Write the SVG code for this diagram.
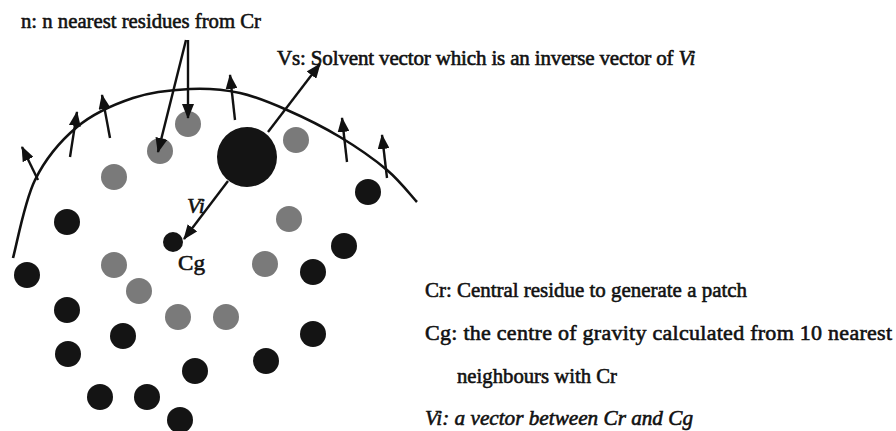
<svg xmlns="http://www.w3.org/2000/svg" width="896" height="431" viewBox="0 0 896 431">
<defs>
<marker id="ah" markerUnits="userSpaceOnUse" markerWidth="15" markerHeight="12" refX="14" refY="6" orient="auto">
<path d="M0,0 L15,6 L0,12 z" fill="#111"/>
</marker>
<style>
.blk{fill:#141414}
.gry{fill:#7a7a7a}
.ln{stroke:#111;stroke-width:2.6;fill:none}
.ar{stroke:#111;stroke-width:2.4;fill:none;marker-end:url(#ah)}
.t{font-family:"Liberation Serif","Times New Roman",serif;font-size:22px;fill:#111;stroke:#111;stroke-width:0.6}
.i{font-style:italic}
</style>
</defs>
<rect width="896" height="431" fill="#fff"/>
<g id="surface">
<path class="ln" d="M13,258 C16.7,245 24.3,201.8 35,180 C45.7,158.2 60.7,140.7 77,127 C93.3,113.3 114.2,104.3 133,98 C151.8,91.7 172.2,89.8 190,89 C207.8,88.2 223.8,89.5 240,93 C256.2,96.5 270.3,102.7 287,110 C303.7,117.3 323.3,127 340,137 C356.7,147 374.2,159.2 387,170 C399.8,180.8 412,196.7 417,202"/>
</g>
<g id="residues-gray">
<circle class="gry" cx="188" cy="124" r="13"/>
<circle class="gry" cx="160" cy="151" r="13"/>
<circle class="gry" cx="114" cy="177" r="13"/>
<circle class="gry" cx="296" cy="140" r="13"/>
<circle class="gry" cx="289" cy="219" r="13"/>
<circle class="gry" cx="114" cy="265" r="13"/>
<circle class="gry" cx="139" cy="291" r="13"/>
<circle class="gry" cx="178" cy="317" r="13"/>
<circle class="gry" cx="226" cy="317" r="13"/>
<circle class="gry" cx="265" cy="264" r="13"/>
</g>
<g id="residues-black">
<circle class="blk" cx="368" cy="192" r="13"/>
<circle class="blk" cx="67" cy="222" r="13"/>
<circle class="blk" cx="344" cy="246" r="13"/>
<circle class="blk" cx="27" cy="275" r="13"/>
<circle class="blk" cx="313" cy="272" r="13"/>
<circle class="blk" cx="67" cy="310" r="13"/>
<circle class="blk" cx="123" cy="336" r="13"/>
<circle class="blk" cx="313" cy="334" r="13"/>
<circle class="blk" cx="68" cy="354" r="13"/>
<circle class="blk" cx="195" cy="371" r="13"/>
<circle class="blk" cx="266" cy="361" r="13"/>
<circle class="blk" cx="100" cy="397" r="13"/>
<circle class="blk" cx="147" cy="397" r="13"/>
<circle class="blk" cx="180" cy="420" r="13"/>
</g>
<g id="Cr"><circle class="blk" cx="247" cy="157" r="30"/></g>
<g id="Cg">
<circle class="blk" cx="173" cy="242" r="10"/>
<text class="t" x="178" y="270" textLength="27" lengthAdjust="spacingAndGlyphs">Cg</text>
</g>
<g id="connectors">
<line class="ar" x1="38" y1="180" x2="22" y2="147"/>
<line class="ar" x1="70" y1="157" x2="77" y2="112"/>
<line class="ar" x1="110" y1="138" x2="102" y2="95"/>
<line class="ar" x1="186" y1="40" x2="158" y2="152"/>
<line class="ar" x1="188" y1="40" x2="188" y2="118"/>
<line class="ar" x1="235" y1="120" x2="230" y2="75"/>
<line class="ar" x1="268" y1="132" x2="320" y2="64"/>
<line class="ar" x1="347" y1="162" x2="342" y2="118"/>
<line class="ar" x1="387" y1="178" x2="382" y2="135"/>
<line class="ar" x1="228" y1="181" x2="184" y2="239"/>
</g>
<g id="labels">
<text class="t" x="21" y="28" textLength="240" lengthAdjust="spacingAndGlyphs">n: n nearest residues from Cr</text>
<text class="t" x="277" y="65" style="font-size:21px;letter-spacing:-0.15px">Vs: Solvent vector which is an inverse vector of <tspan class="i">Vi</tspan></text>
<text class="t i" x="187" y="213">Vi</text>
</g>
<g id="legend">
<text class="t" x="425" y="297" textLength="322" lengthAdjust="spacingAndGlyphs">Cr: Central residue to generate a patch</text>
<text class="t" x="425" y="340" textLength="467" lengthAdjust="spacing">Cg: the centre of gravity calculated from 10 nearest</text>
<text class="t" x="457" y="383" textLength="160" lengthAdjust="spacingAndGlyphs">neighbours with Cr</text>
<text class="t i" x="425" y="425" textLength="268" lengthAdjust="spacingAndGlyphs">Vi: a vector between Cr and Cg</text>
</g>
</svg>
